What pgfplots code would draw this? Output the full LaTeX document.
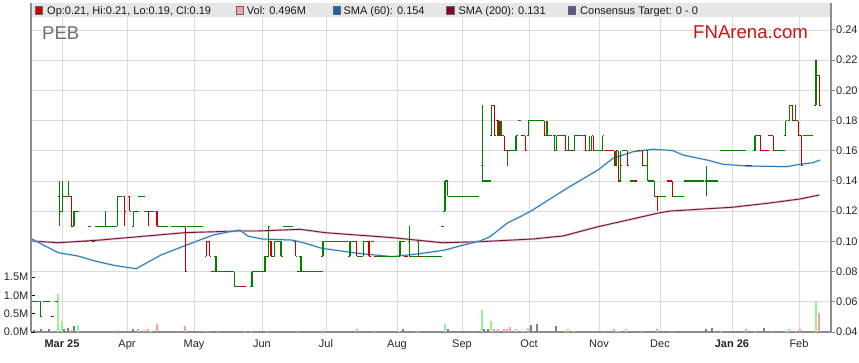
\documentclass[border=0pt]{standalone}
\usepackage{pgfplots}
\pgfplotsset{compat=1.18}
\usepackage{pgfplotstable}
\usepackage{fontspec}
\setmainfont{Liberation Sans}
\definecolor{upg}{RGB}{0,128,0}
\definecolor{dnr}{RGB}{204,0,0}
\definecolor{gridc}{RGB}{218,218,218}
\definecolor{axc}{RGB}{140,140,140}
\definecolor{hdr}{RGB}{230,230,230}
\definecolor{volg}{RGB}{150,240,150}
\definecolor{volr}{RGB}{244,160,160}
\definecolor{volk}{RGB}{128,128,128}
\definecolor{sma60}{RGB}{42,122,190}
\definecolor{sma60h}{RGB}{175,208,235}
\definecolor{sma200}{RGB}{120,18,52}
\definecolor{sma200h}{RGB}{222,175,192}
\definecolor{peb}{RGB}{110,110,110}
\definecolor{fna}{RGB}{200,20,20}
\definecolor{tgt}{RGB}{90,90,140}
\definecolor{legblue}{RGB}{30,100,170}
\definecolor{legmar}{RGB}{128,10,40}

\pgfdeclareplotmark{otick}{\pgfpathmoveto{\pgfqpoint{-1.75bp}{0pt}}\pgfpathlineto{\pgfqpoint{0pt}{0pt}}\pgfusepathqstroke}
\pgfdeclareplotmark{ctick}{\pgfpathmoveto{\pgfqpoint{0pt}{0pt}}\pgfpathlineto{\pgfqpoint{1.75bp}{0pt}}\pgfusepathqstroke}
\pgfdeclareplotmark{vbar}{\pgfpathmoveto{\pgfqpoint{0pt}{0pt}}\pgfpathlineto{\pgfpoint{0pt}{\hilo bp}}\pgfusepathqstroke}

% OHLC, up days (green)
\pgfplotstableread{
x o h l c
33.3 .06 .06 .06 .06
36.6 .06 .06 .06 .06
40.7 .06 .06 .05 .05
45.0 .06 .06 .06 .06
48.3 .06 .06 .06 .06
56.6 .06 .06 .06 .06
59.3 .13 .14 .11 .12
62.6 .12 .14 .12 .13
68.3 .13 .14 .13 .13
74.0 .11 .12 .11 .12
77.3 .12 .12 .12 .12
82.0 .10 .10 .10 .10
85.3 .10 .10 .10 .10
89.5 .11 .11 .11 .11
96.5 .11 .11 .11 .11
99.8 .11 .11 .11 .11
103.1 .11 .11 .11 .11
105.3 .11 .12 .11 .11
108.6 .11 .11 .11 .11
111.9 .11 .11 .11 .11
115.2 .11 .11 .11 .11
117.3 .11 .13 .11 .13
120.6 .13 .13 .13 .13
133.7 .11 .12 .11 .12
140.1 .13 .13 .13 .13
143.4 .13 .13 .13 .13
146.0 .12 .12 .12 .12
152.0 .12 .12 .12 .12
160.0 .11 .11 .11 .11
163.3 .11 .11 .11 .11
166.6 .11 .11 .11 .11
172.5 .11 .11 .11 .11
175.8 .11 .11 .11 .11
179.1 .11 .11 .11 .11
182.2 .11 .11 .11 .11
188.3 .11 .11 .11 .11
191.6 .11 .11 .11 .11
194.9 .11 .11 .11 .11
198.2 .11 .11 .11 .11
201.5 .11 .11 .11 .11
216.0 .09 .09 .08 .08
219.3 .08 .08 .08 .08
222.6 .08 .08 .08 .08
225.9 .08 .08 .08 .08
229.2 .08 .08 .08 .08
232.0 .08 .08 .08 .08
234.3 .08 .08 .07 .07
237.6 .07 .07 .07 .07
252.0 .07 .08 .07 .08
255.3 .08 .08 .08 .08
258.6 .08 .08 .08 .08
261.9 .08 .08 .08 .08
265.0 .08 .09 .08 .09
268.5 .09 .11 .09 .11
274.7 .09 .10 .09 .10
277.9 .10 .10 .10 .10
281.0 .10 .10 .09 .09
284.5 .11 .11 .11 .11
287.8 .11 .11 .11 .11
291.1 .11 .11 .11 .11
301.0 .09 .09 .08 .08
304.3 .08 .08 .08 .08
307.6 .08 .08 .08 .08
310.9 .08 .08 .08 .08
314.2 .08 .08 .08 .08
317.5 .08 .08 .08 .08
320.8 .08 .08 .08 .08
323.0 .09 .10 .09 .10
326.3 .10 .10 .10 .10
329.6 .10 .10 .10 .10
332.9 .10 .10 .10 .10
336.2 .10 .10 .10 .10
339.5 .10 .10 .10 .10
342.8 .10 .10 .10 .10
346.1 .10 .10 .10 .10
350.0 .09 .10 .09 .10
353.3 .10 .10 .10 .10
360.0 .09 .09 .09 .09
363.3 .09 .10 .09 .10
366.6 .10 .10 .10 .10
372.3 .10 .10 .10 .10
379.0 .09 .09 .09 .09
382.3 .09 .09 .09 .09
385.6 .09 .09 .09 .09
388.9 .09 .09 .09 .09
392.2 .09 .09 .09 .09
395.5 .09 .09 .09 .09
400.0 .09 .10 .09 .10
403.3 .10 .10 .10 .10
409.3 .10 .11 .09 .09
412.6 .09 .09 .09 .09
415.9 .09 .09 .09 .09
418.3 .10 .10 .09 .09
423.3 .09 .09 .09 .09
426.6 .09 .09 .09 .09
429.9 .09 .09 .09 .09
433.2 .09 .09 .09 .09
436.5 .09 .09 .09 .09
439.8 .09 .09 .09 .09
442.5 .11 .11 .11 .11
445.0 .12 .14 .12 .14
447.7 .14 .14 .13 .13
451.0 .13 .13 .13 .13
454.3 .13 .13 .13 .13
457.6 .13 .13 .13 .13
460.9 .13 .13 .13 .13
464.2 .13 .13 .13 .13
467.5 .13 .13 .13 .13
470.8 .13 .13 .13 .13
474.1 .13 .13 .13 .13
477.4 .13 .13 .13 .13
482.3 .15 .19 .14 .14
485.6 .14 .14 .14 .14
488.9 .14 .14 .14 .14
491.3 .17 .19 .17 .19
497.3 .18 .18 .17 .18
501.0 .17 .18 .17 .17
507.3 .16 .16 .15 .16
510.6 .16 .16 .16 .16
513.9 .16 .16 .16 .16
516.0 .16 .17 .16 .17
519.3 .18 .18 .18 .18
528.3 .17 .18 .17 .18
531.6 .18 .18 .18 .18
534.9 .18 .18 .18 .18
538.2 .18 .18 .18 .18
541.5 .18 .18 .18 .18
547.0 .17 .18 .17 .17
550.3 .17 .17 .17 .17
554.3 .17 .17 .16 .17
556.7 .16 .17 .16 .17
560.0 .17 .17 .17 .17
563.0 .17 .17 .17 .17
568.3 .16 .17 .16 .16
574.3 .16 .17 .16 .17
577.6 .17 .17 .17 .17
580.9 .17 .17 .17 .17
584.0 .17 .17 .17 .17
589.3 .16 .17 .16 .16
591.7 .16 .17 .16 .17
596.6 .16 .16 .16 .16
599.9 .16 .16 .16 .16
602.7 .16 .17 .16 .17
616.0 .15 .16 .15 .16
620.7 .14 .16 .14 .15
624.0 .16 .16 .16 .16
632.0 .14 .14 .14 .14
638.6 .16 .16 .16 .16
645.5 .15 .15 .15 .15
647.8 .16 .16 .14 .14
651.0 .14 .14 .14 .14
654.3 .14 .14 .13 .13
660.6 .13 .13 .13 .13
663.9 .13 .13 .13 .13
675.6 .13 .13 .13 .13
678.9 .13 .13 .13 .13
682.0 .13 .13 .13 .13
685.5 .14 .14 .14 .14
688.8 .14 .14 .14 .14
692.1 .14 .14 .14 .14
695.4 .14 .14 .14 .14
698.7 .14 .14 .14 .14
702.0 .14 .14 .14 .14
706.5 .14 .15 .13 .14
709.8 .14 .14 .14 .14
713.1 .14 .14 .14 .14
716.4 .14 .14 .14 .14
721.5 .16 .16 .16 .16
724.8 .16 .16 .16 .16
728.1 .16 .16 .16 .16
731.4 .16 .16 .16 .16
734.7 .16 .16 .16 .16
738.0 .16 .16 .16 .16
741.3 .16 .16 .16 .16
744.0 .16 .16 .16 .16
750.5 .15 .15 .15 .15
755.0 .16 .17 .16 .17
758.0 .17 .17 .17 .17
776.6 .16 .16 .16 .16
779.9 .16 .16 .16 .16
783.2 .16 .16 .16 .16
785.7 .17 .18 .17 .18
789.3 .18 .19 .18 .19
795.3 .18 .19 .18 .18
805.0 .17 .17 .17 .17
808.3 .17 .17 .17 .17
811.6 .17 .17 .17 .17
816.0 .19 .22 .19 .21
}\gbars

% OHLC, down days (red)
\pgfplotstableread{
x o h l c
52.5 .05 .05 .05 .05
65.6 .13 .13 .13 .13
71.3 .13 .13 .11 .11
93.5 .10 .10 .10 .10
124.7 .13 .13 .11 .12
129.7 .13 .13 .12 .12
136.8 .12 .12 .12 .12
148.7 .12 .12 .11 .12
157.0 .12 .12 .11 .11
185.3 .11 .11 .08 .08
206.3 .09 .10 .09 .10
209.7 .10 .10 .09 .09
212.8 .08 .08 .08 .08
241.0 .07 .07 .07 .07
244.3 .07 .07 .07 .07
271.0 .10 .10 .09 .09
295.7 .10 .10 .09 .09
298.5 .08 .08 .08 .08
356.7 .10 .10 .09 .09
369.0 .10 .10 .09 .09
375.5 .09 .09 .09 .09
406.0 .09 .09 .09 .09
420.0 .09 .09 .09 .09
494.7 .19 .19 .17 .17
499.0 .18 .18 .17 .17
504.3 .17 .17 .16 .16
523.0 .17 .17 .17 .17
525.3 .17 .17 .16 .16
544.3 .18 .18 .17 .17
565.7 .17 .17 .16 .16
571.5 .16 .16 .16 .16
585.7 .17 .17 .16 .16
593.3 .17 .17 .16 .16
606.0 .16 .16 .16 .16
609.3 .16 .16 .16 .16
612.0 .16 .16 .16 .16
614.3 .16 .16 .15 .15
618.3 .16 .16 .14 .14
627.3 .16 .16 .15 .15
635.3 .14 .14 .14 .14
642.7 .16 .16 .15 .15
657.3 .13 .13 .12 .13
669.0 .14 .14 .14 .14
672.3 .14 .14 .13 .13
747.0 .15 .15 .15 .15
760.7 .17 .17 .16 .16
764.0 .16 .16 .16 .16
767.0 .16 .16 .16 .16
770.0 .17 .17 .17 .17
773.3 .17 .17 .16 .16
792.7 .19 .19 .18 .18
798.3 .18 .18 .17 .17
801.7 .17 .17 .15 .15
819.3 .21 .21 .19 .19
}\rbars

% volume (millions)
\pgfplotstableread{
x v
34.3 .05
40.7 .08
49.3 .08
64.3 .08
67.7 .11
74.0 .16
101.7 .03
132.7 .08
160.0 .03
224.0 .03
234.0 .03
261.7 .03
331.7 .03
353.3 .03
381.0 .03
390.0 .03
403.3 .07
409.3 .03
447.7 .08
451.7 .03
463.3 .03
484.3 .07
487.7 .07
531.0 .18
536.7 .23
540.0 .03
547.3 .03
556.0 .16
559.3 .03
598.3 .03
648.3 .03
651.7 .03
654.0 .04
706.0 .07
711.7 .11
736.7 .03
760.7 .03
764.0 .11
780.0 .03
}\volk

\pgfplotstableread{
x v
58.3 1.05
61.7 .31
77.7 .19
116.7 .05
150.7 .04
245.0 .03
250.7 .03
266.7 .04
322.7 .05
399.3 .03
418.3 .03
445.0 .23
482.3 .60
490.7 .30
507.3 .07
516.0 .07
528.3 .10
568.3 .07
574.0 .03
619.3 .04
626.0 .09
720.7 .03
755.0 .03
785.7 .04
789.0 .07
816.0 .86
}\volg

\pgfplotstableread{
x v
52.3 .04
71.0 .05
138.3 .08
144.3 .05
147.7 .07
156.7 .22
185.0 .16
205.0 .03
208.0 .03
218.0 .03
297.7 .03
356.7 .07
375.0 .03
494.0 .07
497.7 .07
504.0 .07
506.7 .08
510.0 .14
521.7 .04
524.0 .04
565.0 .04
605.0 .04
614.0 .07
616.7 .04
641.7 .04
656.7 .07
671.7 .04
745.7 .07
772.7 .04
796.0 .04
800.0 .07
819.0 .52
}\volr

\pgfplotstableread{
x y
31.7 0.1016
58.3 0.0925
78.0 0.0903
95.0 0.0870
115.0 0.0840
136.0 0.0819
161.0 0.0910
185.0 0.0972
213.0 0.1042
228.0 0.1062
240.0 0.1075
248.0 0.1035
262.0 0.1016
292.0 0.1009
302.0 0.0994
322.0 0.0954
358.0 0.0921
392.0 0.0899
418.0 0.0917
445.0 0.0943
460.0 0.0970
480.0 0.1003
490.0 0.1031
507.0 0.1120
530.0 0.1197
567.0 0.1352
598.0 0.1473
613.0 0.1550
633.0 0.1594
653.0 0.1610
673.0 0.1601
683.0 0.1572
707.0 0.1539
723.0 0.1511
747.0 0.1499
787.0 0.1495
800.0 0.1511
813.0 0.1521
820.0 0.1539
}\smasixty

\pgfplotstableread{
x y
31.7 0.1003
58.3 0.0991
100.0 0.1009
185.0 0.1058
240.0 0.1069
258.0 0.1069
300.0 0.1080
325.0 0.1058
392.0 0.1025
443.0 0.0991
480.0 0.0998
533.0 0.1016
563.0 0.1036
598.0 0.1097
660.0 0.1190
670.0 0.1201
732.0 0.1226
767.0 0.1252
800.0 0.1281
819.3 0.1307
}\smatwohundred

\pgfplotsset{base/.style={at={(31bp,31bp)}, anchor=south west, scale only axis,
  width=800bp, height=315bp, xmin=31, xmax=831},
  lblfont/.style={font=\fontsize{11bp}{13bp}\selectfont}}

\begin{document}
\begin{tikzpicture}
\useasboundingbox (0,0) rectangle (859bp,363bp);

% axis A: grid, price ticks, date ticks
\begin{axis}[base, ymin=0.04, ymax=0.248609,
  axis x line*=bottom, axis y line*=right,
  axis line style={draw=axc, line width=1.2bp, -},
  xtick={62,127,194,262,326,397,462,529,599,660,732,799},
  xticklabels={\textbf{Mar 25},Apr,May,Jun,Jul,Aug,Sep,Oct,Nov,Dec,\textbf{Jan 26},Feb},
  ytick={0.04,0.06,0.08,0.10,0.12,0.14,0.16,0.18,0.20,0.22,0.24},
  yticklabels={0.04,0.06,0.08,0.10,0.12,0.14,0.16,0.18,0.20,0.22,0.24},
  xmajorgrids, ymajorgrids, grid style={draw=gridc, line width=0.9bp},
  tick align=outside, major tick length=4bp,
  x tick style={draw=none},
  y tick style={draw=axc, line width=1bp},
  tick label style={lblfont, text=black!85},
  yticklabel style={inner sep=1bp},
  xticklabel style={anchor=base, inner sep=0pt},
  xticklabel shift=11bp,
]
\addplot[draw=none] coordinates {(31,0.1)};
\end{axis}

% axis B: volume
\begin{axis}[base, ymin=0, ymax=8.63,
  axis y line*=left, axis x line=none,
  axis line style={draw=axc, line width=1.2bp, -},
  ytick={0,0.5,1,1.5}, yticklabels={0.0M,0.5M,1.0M,1.5M},
  tick align=inside, major tick length=4bp,
  y tick style={draw=black, line width=1bp},
  tick label style={lblfont, text=black!85},
  yticklabel style={inner sep=2.5bp},
]
\addplot[ycomb, volk, line width=2bp] table[x=x,y=v]{\volk};
\addplot[ycomb, volg, line width=2bp] table[x=x,y=v]{\volg};
\addplot[ycomb, volr, line width=2bp] table[x=x,y=v]{\volr};
\end{axis}

% axis C: prices and moving averages (1 price unit = 1510 bp)
\begin{axis}[base, ymin=0.04, ymax=0.248609, hide axis]
\addplot[sma200h, line width=2.2bp, opacity=0.8] table[x=x,y=y]{\smatwohundred};
\addplot[sma200, line width=0.9bp] table[x=x,y=y]{\smatwohundred};
\addplot[sma60h, line width=2bp, opacity=0.6] table[x=x,y=y]{\smasixty};
\addplot[sma60, line width=1bp] table[x=x,y=y]{\smasixty};

\addplot[upg, only marks, mark=vbar, mark options={line width=1.1bp},
  visualization depends on={1510*(\thisrow{h}-\thisrow{l}) \as \hilo}]
  table[x=x, y=l]{\gbars};
\addplot[upg, only marks, mark=otick, mark options={line width=1.1bp}] table[x=x,y=o]{\gbars};
\addplot[upg, only marks, mark=ctick, mark options={line width=1.1bp}] table[x=x,y=c]{\gbars};

\addplot[dnr, only marks, mark=vbar, mark options={line width=1.1bp},
  visualization depends on={1510*(\thisrow{h}-\thisrow{l}) \as \hilo}]
  table[x=x, y=l]{\rbars};
\addplot[dnr, only marks, mark=otick, mark options={line width=1.1bp}] table[x=x,y=o]{\rbars};
\addplot[dnr, only marks, mark=ctick, mark options={line width=1.1bp}] table[x=x,y=c]{\rbars};
\end{axis}

% header band with legend
\fill[hdr] (31bp,346bp) rectangle (831bp,360bp);
\draw[axc, line width=1.2bp] (31bp,346bp) -- (31bp,360bp);
\draw[axc, line width=1.2bp] (831bp,346bp) -- (831bp,360bp);
\begin{scope}[every node/.style={anchor=base west, inner sep=0pt, font=\fontsize{11bp}{13bp}\selectfont, text=black!90}]
\filldraw[fill=dnr, draw=black!60, line width=0.5bp] (35.2bp,349bp) rectangle (42.6bp,356.4bp);
\node at (47bp,348.6bp) {Op:0.21, Hi:0.21, Lo:0.19, Cl:0.19};
\filldraw[fill=volr, draw=black!60, line width=0.5bp] (236bp,349bp) rectangle (243.4bp,356.4bp);
\node at (246.7bp,348.6bp) {Vol: 0.496M};
\filldraw[fill=legblue, draw=black!60, line width=0.5bp] (333.3bp,349bp) rectangle (340.7bp,356.4bp);
\node at (343.3bp,348.6bp) {SMA (60): 0.154};
\filldraw[fill=legmar, draw=black!60, line width=0.5bp] (446.7bp,349bp) rectangle (454.1bp,356.4bp);
\node at (458.3bp,348.6bp) {SMA (200): 0.131};
\filldraw[fill=tgt, draw=black!60, line width=0.5bp] (568.3bp,349bp) rectangle (575.7bp,356.4bp);
\node at (580bp,348.6bp) {Consensus Target: 0 - 0};
\end{scope}

\node[anchor=base west, inner sep=0pt, text=peb, font=\fontsize{18.5bp}{20bp}\selectfont] at (42bp,323.5bp) {PEB};
\node[anchor=base west, inner sep=0pt, text=fna, font=\fontsize{18.6bp}{20bp}\selectfont] at (693bp,324.5bp) {FNArena.com};
\end{tikzpicture}
\end{document}
